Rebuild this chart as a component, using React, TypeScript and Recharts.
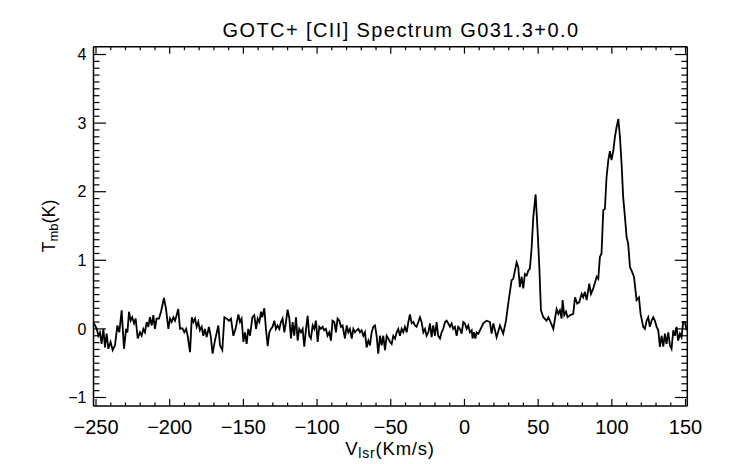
import React from "react";
import { LineChart, Line, XAxis, YAxis } from "recharts";

// velocity (km/s) and main-beam temperature (K)
const velocity = [
  -251.4, -249.5, -248.4, -247.3, -246.2, -245.0, -243.9, -242.8, -241.6, -240.1,
  -238.7, -237.1, -235.5, -234.2, -232.6, -231.0, -229.6, -228.7, -227.6, -226.5,
  -225.4, -224.2, -223.1, -221.7, -220.2, -219.0, -217.9, -216.8, -215.6, -214.5,
  -213.4, -212.2, -211.1, -210.0, -208.9, -207.3, -205.9, -203.9, -202.5, -200.9,
  -199.8, -198.7, -197.5, -196.4, -195.3, -194.2, -193.0, -191.4, -190.1, -188.9,
  -187.8, -186.2, -185.0, -183.9, -182.8, -181.7, -180.6, -179.5, -178.3, -177.2,
  -176.1, -174.9, -173.4, -172.2, -170.9, -169.3,
  -167.0, -165.9, -164.3, -162.9, -161.4, -159.8, -158.4, -156.8, -155.3, -153.4,
  -152.3, -151.2, -150.0, -148.9, -147.8, -146.7, -145.5, -143.9, -142.6, -141.4,
  -140.3, -139.2, -138.0, -137.2, -135.8, -134.7, -133.5, -132.4, -131.3, -130.2,
  -129.0, -127.9, -126.8, -125.6, -124.5, -123.4, -122.2, -121.1, -120.0, -118.8,
  -117.7, -116.6, -115.5, -114.3, -113.2, -112.1, -110.9, -109.8, -108.7, -107.5,
  -106.4, -105.3, -104.2, -103.0, -101.9, -100.8, -99.6, -98.5, -97.4, -96.2,
  -95.1, -94.0, -92.9, -91.7, -90.6, -89.5, -88.3, -87.2, -86.1, -84.9,
  -83.8, -82.7,
  -81.1, -79.9, -78.8, -77.7, -76.5, -75.4, -74.3, -73.2, -72.0, -70.9,
  -69.8, -68.6, -67.5, -66.4, -65.2, -64.1, -63.0, -61.8, -60.7, -59.6,
  -58.5, -57.3, -56.2, -55.1, -53.9, -52.8, -51.7, -50.5, -49.4, -48.3,
  -47.1, -46.0, -44.9, -43.8, -42.6, -41.5, -40.4, -39.2, -38.1, -37.0,
  -35.8, -34.7, -33.6, -32.5, -31.3, -30.2, -29.1, -27.9, -26.8, -25.7,
  -24.5, -23.4, -22.3, -21.2, -20.0, -18.9, -17.8, -16.6, -15.5, -14.4,
  -13.2, -12.1, -11.0, -9.8, -8.7, -7.6, -6.5, -5.3, -4.2, -3.1,
  -1.9, -0.8, 0.3, 1.5, 2.6, 3.7,
  4.9, 5.5, 6.5, 7.4, 8.3, 9.4,
  10.5, 12.8, 15.0, 17.3, 18.4, 19.6, 21.8, 24.1, 26.3, 28.2,
  29.7, 32.0, 33.1, 35.4, 36.5, 37.6, 38.8, 39.9, 41.0, 42.2,
  43.3, 44.4, 45.6, 46.7, 48.3, 49.6, 50.8, 51.9, 53.5, 55.7,
  56.9, 58.0, 60.3, 62.5, 63.7, 64.8, 65.9, 66.6, 67.7, 68.9,
  70.0, 71.6, 73.8, 75.0, 76.5, 77.9, 79.5, 80.6, 81.7, 82.9,
  84.7, 85.8, 87.4, 89.7, 90.8, 91.9, 93.0, 94.2, 95.3, 96.4,
  97.6, 98.7, 99.8, 101.0, 102.1, 103.2, 104.4, 105.5, 106.6, 107.7,
  108.9, 110.0, 111.1, 112.3, 113.4, 115.0, 116.8, 118.4, 119.5, 121.3,
  122.4, 123.6, 124.7, 125.8, 127.0, 128.1, 129.2, 130.4, 131.5, 132.6,
  133.8, 134.9, 136.0, 137.1, 138.3, 139.4, 140.5, 141.7, 142.8, 143.9,
  145.0, 146.2, 147.3, 148.4, 149.6, 150.7,
];

const tmb = [
  0.08, 0.0, -0.1, -0.05, -0.22, 0.0, -0.27, -0.07, -0.29, -0.19,
  -0.31, -0.24, 0.05, -0.05, 0.27, -0.29, 0.0, -0.05, 0.25, 0.12,
  0.17, 0.08, 0.15, -0.14, -0.05, -0.1, 0.0, -0.05, 0.1, 0.03,
  0.17, 0.05, 0.2, 0.0, 0.15, 0.15, 0.25, 0.45, 0.29, 0.0,
  0.15, 0.1, 0.17, 0.12, 0.2, 0.29, 0.0, 0.01, -0.05, 0.0,
  -0.1, -0.34, 0.17, 0.1, 0.15, 0.03, 0.1, -0.02, 0.03, -0.1,
  0.0, -0.12, 0.03, -0.1, -0.36, -0.17,
  0.05, -0.24, -0.31, 0.17, 0.15, 0.12, 0.15, -0.1, 0.0, 0.21,
  0.1, 0.15, -0.19, -0.05, -0.22, 0.0, -0.1, 0.17, 0.2, 0.0,
  0.15, 0.1, 0.25, 0.17, 0.3, 0.0, -0.25, -0.05, 0.0, 0.03,
  0.12, 0.0, 0.05, 0.0, 0.1, 0.15, -0.05, 0.1, 0.28, 0.15,
  -0.14, 0.1, -0.1, 0.17, -0.17, 0.0, -0.05, 0.0, -0.26, 0.0,
  0.19, -0.1, -0.14, 0.05, 0.0, 0.12, -0.19, 0.03, 0.0, 0.03,
  -0.02, 0.0, -0.1, -0.05, -0.17, 0.12, 0.1, -0.05, 0.15, 0.12,
  0.03, 0.05,
  -0.14, 0.05, -0.05, 0.0, -0.14, 0.0, -0.05, -0.02, 0.0, -0.05,
  -0.02, -0.1, -0.05, -0.27, -0.17, -0.24, -0.05, 0.03, 0.05, -0.1,
  -0.36, -0.1, -0.24, -0.1, -0.31, -0.1, -0.14, -0.19, -0.22, -0.1,
  -0.14, -0.05, 0.0, -0.1, 0.0, -0.05, 0.03, -0.05, 0.1, 0.21,
  0.08, 0.1, 0.05, 0.03, 0.1, 0.17, 0.1, -0.05, 0.0, -0.1,
  -0.05, 0.08, -0.12, 0.05, -0.1, 0.1, -0.1, -0.14, -0.05, 0.0,
  0.1, 0.12, 0.08, 0.03, 0.08, 0.0, 0.03, -0.1, 0.03, 0.0,
  -0.07, 0.1, 0.08, 0.0, 0.05, -0.05,
  -0.02, -0.14, -0.05, -0.14, -0.05, -0.07,
  -0.02, 0.08, 0.12, 0.1, -0.07, 0.08, -0.12, 0.05, -0.07, 0.12,
  0.37, 0.71, 0.73, 0.97, 0.9, 0.61, 0.76, 0.59, 0.8, 0.78,
  0.85, 0.88, 1.19, 1.63, 1.96, 1.44, 0.9, 0.27, 0.17, 0.12,
  0.17, 0.12, 0.0, 0.29, 0.22, 0.27, 0.15, 0.42, 0.2, 0.25,
  0.17, 0.2, 0.22, 0.46, 0.37, 0.39, 0.51, 0.46, 0.54, 0.42,
  0.66, 0.51, 0.59, 0.76, 0.73, 1.05, 1.1, 1.73, 1.75, 2.21,
  2.46, 2.59, 2.46, 2.6, 2.8, 2.94, 3.06, 2.8, 2.41, 1.92,
  1.63, 1.34, 1.24, 0.9, 0.85, 0.76, 0.42, 0.46, 0.22, 0.03,
  0.0, 0.12, 0.17, 0.03, 0.12, 0.17, 0.12, 0.03, -0.02, -0.26,
  -0.1, -0.26, -0.07, -0.22, -0.05, -0.24, -0.29, -0.02, -0.1, 0.03,
  -0.17, -0.07, -0.12, 0.1, 0.1, -0.02,
];

const xMajor = [-250, -200, -150, -100, -50, 0, 50, 100, 150];
const yMajor = [-1, 0, 1, 2, 3, 4];

const xTicks: number[] = [];
for (let k = -25; k <= 15; k++) xTicks.push(k * 10);
const yTicks: number[] = [];
for (let k = -10; k <= 40; k++) yTicks.push(k / 10);

const data = velocity.map((v, i) => ({ v, t: tmb[i] }));

const FONT = "'Liberation Sans', Arial, Helvetica, sans-serif";
const INK = "#000";
const fmt = (n: number) => (n < 0 ? "\u2212" + Math.abs(n) : String(n));
const isMajor = (list: number[], n: number) => list.some((m) => Math.abs(m - n) < 1e-6);

const BottomTick = (props: any) => {
  const { x, y, payload } = props;
  const major = isMajor(xMajor, payload.value);
  return (
    <g>
      <line x1={x} x2={x} y1={y} y2={y - (major ? 7 : 3.5)} stroke={INK} strokeWidth={1.2} />
      {major && (
        <text x={x} y={y + 28} textAnchor="middle" fontSize={20} fontFamily={FONT} fill={INK}>
          {fmt(payload.value)}
        </text>
      )}
    </g>
  );
};

const TopTick = (props: any) => {
  const { x, y, payload } = props;
  const major = isMajor(xMajor, payload.value);
  return <line x1={x} x2={x} y1={y} y2={y + (major ? 7 : 3.5)} stroke={INK} strokeWidth={1.2} />;
};

const LeftTick = (props: any) => {
  const { x, y, payload } = props;
  const major = isMajor(yMajor, payload.value);
  return (
    <g>
      <line x1={x} x2={x + (major ? 12.5 : 6)} y1={y} y2={y} stroke={INK} strokeWidth={1.2} />
      {major && (
        <text x={x - 7} y={y} dy="0.36em" textAnchor="end" fontSize={16} fontFamily={FONT} fill={INK}>
          {fmt(Math.round(payload.value))}
        </text>
      )}
    </g>
  );
};

const RightTick = (props: any) => {
  const { x, y, payload } = props;
  const major = isMajor(yMajor, payload.value);
  return <line x1={x} x2={x - (major ? 12.5 : 6)} y1={y} y2={y} stroke={INK} strokeWidth={1.2} />;
};

export default function App() {
  const axisLine = { stroke: INK, strokeWidth: 1.5 };
  return (
    <div style={{ position: "absolute", left: 0, top: 0, background: "#fff" }}>
      <LineChart width={742} height={464} data={data} margin={{ top: 45.7, right: 53.7, bottom: 57, left: 92.5 }}>
        <XAxis
          xAxisId="b"
          dataKey="v"
          type="number"
          domain={[-251.7, 151.2]}
          allowDataOverflow
          ticks={xTicks}
          interval={0}
          height={1}
          tickSize={0}
          tickMargin={0}
          tickLine={false}
          axisLine={axisLine}
          tick={<BottomTick />}
        />
        <XAxis
          xAxisId="t"
          orientation="top"
          dataKey="v"
          type="number"
          domain={[-251.7, 151.2]}
          allowDataOverflow
          ticks={xTicks}
          interval={0}
          height={1}
          tickSize={0}
          tickMargin={0}
          tickLine={false}
          axisLine={axisLine}
          tick={<TopTick />}
        />
        <YAxis
          yAxisId="l"
          type="number"
          domain={[-1.124, 4.114]}
          allowDataOverflow
          ticks={yTicks}
          interval={0}
          width={1}
          tickSize={0}
          tickMargin={0}
          tickLine={false}
          axisLine={axisLine}
          tick={<LeftTick />}
        />
        <YAxis
          yAxisId="r"
          orientation="right"
          type="number"
          domain={[-1.124, 4.114]}
          allowDataOverflow
          ticks={yTicks}
          interval={0}
          width={1}
          tickSize={0}
          tickMargin={0}
          tickLine={false}
          axisLine={axisLine}
          tick={<RightTick />}
        />
        <Line
          xAxisId="b"
          yAxisId="l"
          type="linear"
          dataKey="t"
          stroke={INK}
          strokeWidth={1.8}
          dot={false}
          isAnimationActive={false}
        />
        <text x={401} y={36.7} textAnchor="middle" fontSize={20} letterSpacing={1.4} fontFamily={FONT} fill={INK}>
          GOTC+ [CII] Spectrum G031.3+0.0
        </text>
        <text x={390} y={455} textAnchor="middle" fontSize={18.5} letterSpacing={0.8} fontFamily={FONT} fill={INK}>
          V<tspan fontSize={14} dy={3}>lsr</tspan>
          <tspan dy={-3}>(Km/s)</tspan>
        </text>
        <text
          transform="translate(55,226) rotate(-90)"
          textAnchor="middle"
          fontSize={18}
          fontFamily={FONT}
          fill={INK}
        >
          T<tspan fontSize={13} dy={3}>mb</tspan>
          <tspan dy={-3}>(K)</tspan>
        </text>
      </LineChart>
    </div>
  );
}
